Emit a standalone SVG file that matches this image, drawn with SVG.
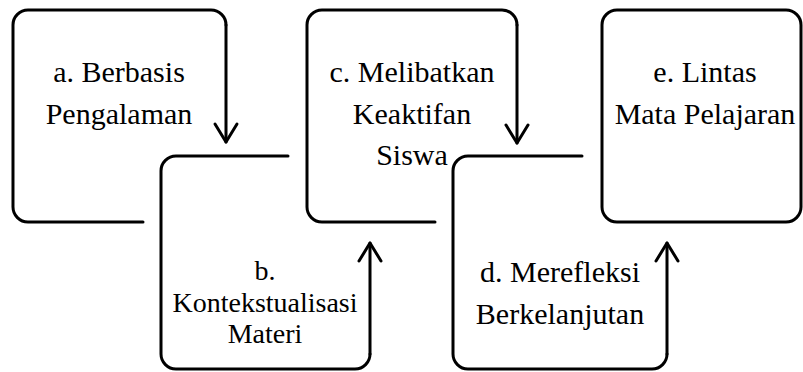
<svg xmlns="http://www.w3.org/2000/svg" width="803" height="372" viewBox="0 0 803 372">
<style>
.box{fill:none;stroke:#000;stroke-width:3;stroke-linecap:round;stroke-linejoin:round}
.conn{fill:none;stroke:#000;stroke-width:3;stroke-linecap:round;marker-end:url(#arrow)}
text{font-family:'Liberation Serif','DejaVu Serif',serif;font-size:30px;fill:#000;text-anchor:middle}
.s{font-size:28px}
</style>
<defs>
<marker id="arrow" viewBox="-20 -20 40 40" refX="0" refY="0" markerWidth="40" markerHeight="40" markerUnits="userSpaceOnUse" orient="auto" overflow="visible">
<path d="M-18,-11 L0,0 L-18,11" fill="none" stroke="#000" stroke-width="3" stroke-linecap="round" stroke-linejoin="round"/>
</marker>
</defs>
<rect width="803" height="372" fill="#fff"/>
<g id="node-a" font-family="Liberation Serif, serif">
<path class="box" d="M143,222 H28 A15,15 0 0 1 13,207 V25 A15,15 0 0 1 28,10 H211 A15,15 0 0 1 226,25"/>
<text x="119" y="82">a. Berbasis</text>
<text x="119" y="123.5">Pengalaman</text>
</g>
<g id="node-b" font-family="Liberation Serif, serif">
<path class="box" d="M288,156 H176 A15,15 0 0 0 161,171 V354 A15,15 0 0 0 176,369 H355 A15,15 0 0 0 370,354"/>
<text class="s" x="265" y="280">b.</text>
<text class="s" x="265" y="311.5">Kontekstualisasi</text>
<text class="s" x="265" y="343">Materi</text>
</g>
<g id="node-c" font-family="Liberation Serif, serif">
<path class="box" d="M435,222 H322 A15,15 0 0 1 307,207 V25 A15,15 0 0 1 322,10 H502 A15,15 0 0 1 517,25"/>
<text x="412" y="82">c. Melibatkan</text>
<text x="412" y="123.5">Keaktifan</text>
<text x="412" y="165">Siswa</text>
</g>
<g id="node-d" font-family="Liberation Serif, serif">
<path class="box" d="M582,156 H468 A15,15 0 0 0 453,171 V354 A15,15 0 0 0 468,369 H652 A15,15 0 0 0 667,354"/>
<text x="560" y="282">d. Merefleksi</text>
<text x="560" y="323.5">Berkelanjutan</text>
</g>
<g id="node-e" font-family="Liberation Serif, serif">
<rect class="box" x="602" y="10" width="199" height="212" rx="15" ry="15"/>
<text x="705" y="82">e. Lintas</text>
<text x="705" y="123.5">Mata Pelajaran</text>
</g>
<g id="connectors">
<path class="conn" d="M226,25 V142"/>
<path class="conn" d="M370,354 V243"/>
<path class="conn" d="M517,25 V143"/>
<path class="conn" d="M667,354 V243"/>
</g>
</svg>
